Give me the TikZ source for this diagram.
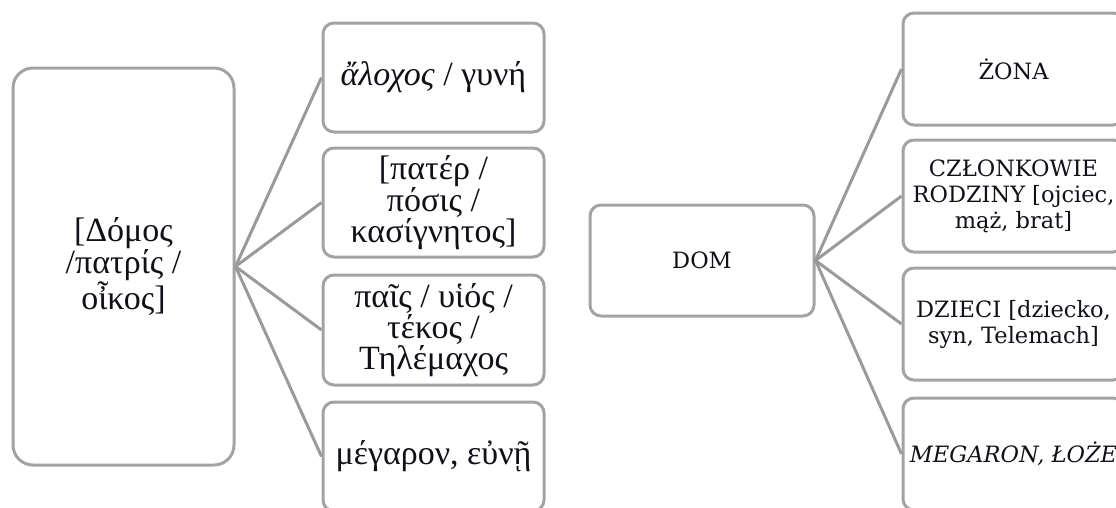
\documentclass[tikz,border=0pt]{standalone}
\usepackage{fontspec}
\setmainfont{Liberation Serif}
\newfontfamily\greekfont{Liberation Serif}
\newfontfamily\plfont{DejaVu Serif}
\definecolor{boxgray}{HTML}{A3A3A3}
\definecolor{linegray}{HTML}{9A9A9A}
\definecolor{inkc}{HTML}{101018}
\begin{document}
\begin{tikzpicture}[x=1pt,y=-1pt,
  box/.style={draw=boxgray, line width=3pt, rounded corners=11pt, fill=white,
    minimum width=221pt, minimum height=109pt, align=center, inner sep=0pt, text=inkc},
  grk/.style={font=\greekfont\fontsize{34}{31}\selectfont},
  pol/.style={font=\plfont\fontsize{22.5}{26}\selectfont},
  link/.style={draw=linegray, line width=3pt}]
\useasboundingbox (0,0) rectangle (1116,507);
\clip (0,0) rectangle (1116,507);

% Greek tree
\node[box, grk, rounded corners=20pt, minimum height=397pt] (root) at (123.5,266.5)
  {[Δόμος\\/πατρίς /\\οἶκος]};
\node[box, grk] (g1) at (433.5,77.5) {\textit{ἄλοχος} / γυνή};
\node[box, grk] (g2) at (433.5,202.5) {[πατέρ /\\πόσις /\\κασίγνητος]};
\node[box, grk, minimum height=110pt] (g3) at (433.5,330) {παῖς / υἱός /\\τέκος /\\Τηλέμαχος};
\node[box, grk] (g4) at (433.5,456.5) {μέγαρον, εὐνῇ};

% Polish tree
\node[box, pol, minimum width=224pt, minimum height=111pt] (dom) at (702,260.5) {DOM};
\node[box, pol, minimum height=112pt] (p1) at (1013.5,69) {ŻONA};
\node[box, pol, minimum height=112pt] (p2) at (1013.5,196) {CZŁONKOWIE\\RODZINY [ojciec,\\mąż, brat]};
\node[box, pol, minimum height=112pt] (p3) at (1013.5,324) {DZIECI [dziecko,\\syn, Telemach]};
\node[box, pol, minimum height=112pt] (p4) at (1013.5,454) {\itshape MEGARON, ŁOŻE};

% connectors
\foreach \c in {g1,g2,g3,g4} \draw[link] (root.east) -- (\c.west);
\foreach \c in {p1,p2,p3,p4} \draw[link] (dom.east) -- (\c.west);
\end{tikzpicture}
\end{document}
